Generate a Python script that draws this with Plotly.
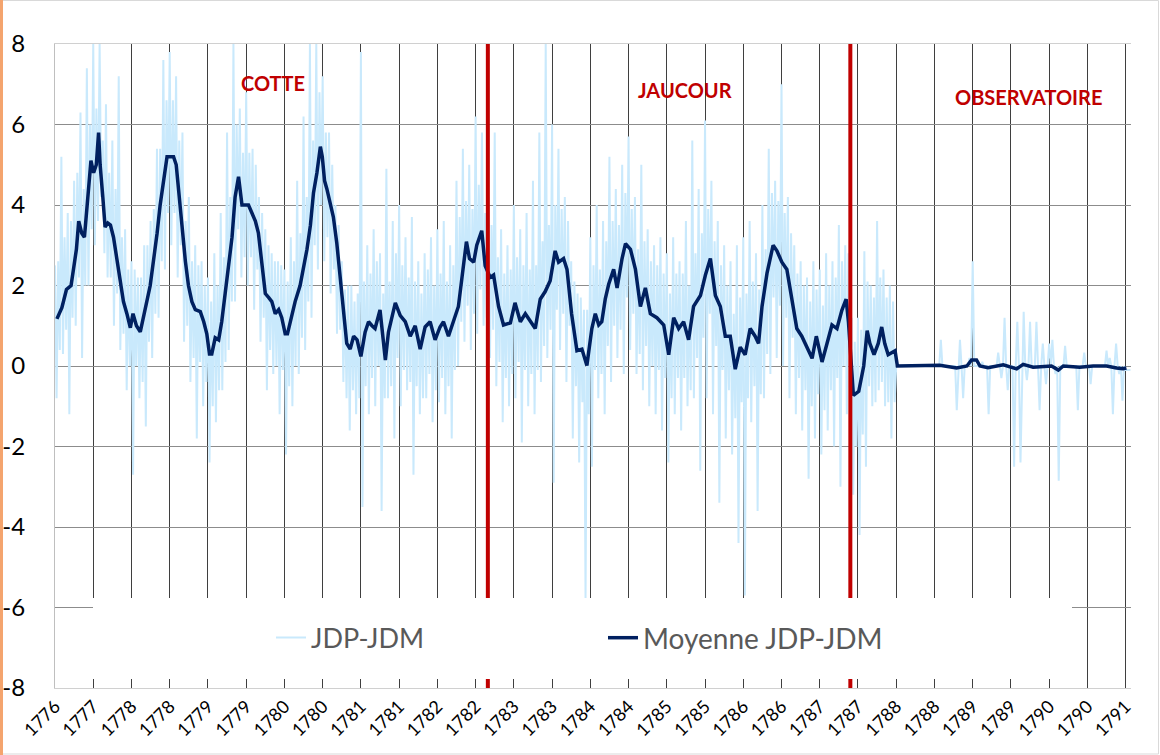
import numpy as np
import plotly.graph_objects as go

# ---------------- data ----------------
# x unit = one labelled period (tick); 29 tick labels
tick_labels = ["1776", "1777", "1778", "1778", "1779", "1779", "1780", "1780",
               "1781", "1781", "1782", "1782", "1783", "1783", "1784", "1784",
               "1785", "1785", "1786", "1786", "1787", "1787", "1788", "1788",
               "1789", "1789", "1790", "1790", "1791"]
y_ticks = [-8, -6, -4, -2, 0, 2, 4, 6, 8]
y_tick_labels = ["-8", "-6", "-4", "-2", "0", "2", "4", "6", "8"]

# JDP-JDM raw differences, 24 readings per period (one row per period)
jdp_jdm = [
    2.5, -0.8, 2.6, 0.4, 5.2, 0.3, 3.2, 0.9, 3.8, -1.2, 3.6, 1.2, 4.6, 1.0, 4.8, 2.2, 6.3, 0.2, 4.4, 2.0, 7.4, 2.0, 6.0, 3.4,
    8.0, 3.0, 6.4, 3.6, 8.0, 4.2, 5.6, 2.8, 6.5, 2.2, 4.8, 2.2, 5.6, 1.0, 4.4, 1.8, 7.2, 0.4, 3.2, 0.8, 3.4, -0.6, 2.4, 0.0,
    2.6, -2.7, 2.4, 0.0, 2.2, -0.8, 2.2, -0.4, 3.0, -1.5, 3.0, 0.6, 3.6, 0.2, 3.9, 1.3, 5.4, 1.2, 5.4, 2.6, 7.6, 2.4, 6.6, 3.8,
    7.8, 3.0, 6.6, 3.8, 7.2, 2.2, 5.6, 3.0, 5.8, 0.6, 3.6, 1.0, 4.2, -0.4, 2.6, 0.2, 3.0, -1.8, 2.5, 0.1, 2.6, -1.0, 2.0, -0.4,
    2.2, -2.4, 1.6, -1.0, 2.8, -1.4, 2.0, -0.6, 3.8, -0.6, 2.7, 0.1, 5.8, 0.4, 4.2, 1.6, 8.0, 1.6, 6.0, 3.4, 6.4, 2.2, 5.3, 2.7,
    6.8, 2.0, 5.3, 2.7, 5.4, 1.4, 5.0, 2.4, 4.2, 0.6, 3.8, 1.2, 3.4, -0.6, 3.0, 0.4, 2.8, -0.2, 2.6, 0.0, 2.6, -1.2, 2.5, -0.1,
    2.4, -2.2, 2.1, -0.5, 3.2, -1.0, 2.6, 0.0, 4.6, -0.2, 3.3, 0.7, 6.2, 0.4, 4.2, 1.6, 8.0, 1.2, 5.6, 3.0, 8.0, 2.4, 6.8, 4.0,
    7.2, 2.6, 5.8, 3.2, 5.8, 1.8, 5.0, 2.4, 4.0, 0.8, 3.5, 0.9, 2.6, -0.4, 1.9, -0.8, 2.0, -1.6, 2.0, -0.6, 1.6, -1.2, 1.8, -0.8,
    7.8, -3.5, 2.1, -0.5, 3.0, -1.2, 2.3, -0.3, 3.4, -1.0, 2.6, 0.0, 2.8, -3.6, 1.8, -0.8, 4.9, -0.8, 2.1, -0.5, 3.6, -1.8, 2.8, 0.2,
    4.0, -1.0, 2.5, -0.1, 3.2, -0.6, 2.2, -0.4, 3.7, -2.7, 2.1, -0.5, 2.6, -1.2, 1.8, -0.8, 2.8, -0.8, 2.4, -0.2, 3.2, -1.4, 2.0, -0.6,
    3.4, -0.9, 2.3, -0.3, 3.6, -1.2, 2.1, -0.5, 3.0, -1.8, 2.5, -0.1, 4.6, 0.0, 3.7, 1.1, 5.4, 0.6, 4.1, 1.5, 5.0, 0.4, 3.9, 1.3,
    6.2, 0.8, 4.5, 1.9, 5.8, 1.0, 3.8, 1.2, 4.2, 0.2, 3.5, 0.9, 5.8, -0.5, 2.7, 0.1, 3.4, -1.4, 2.3, -0.3, 3.0, -1.0, 2.4, -0.2,
    4.0, -0.8, 2.7, 0.1, 3.4, -1.9, 2.5, -0.1, 3.8, -1.0, 2.4, -0.2, 4.6, -1.2, 2.5, -0.1, 5.8, -0.4, 3.1, 0.5, 8.0, 0.2, 3.5, 0.9,
    6.0, -2.9, 4.0, 1.4, 5.4, 0.4, 3.9, 1.3, 4.2, -0.4, 3.6, 1.0, 2.6, -1.8, 2.1, -0.5, 1.8, -2.4, 1.7, -0.9, 1.4, -5.8, 1.4, -1.2,
    3.2, -2.5, 2.5, -0.1, 4.0, -0.8, 2.4, -0.2, 3.6, -1.2, 3.1, 0.5, 5.2, -0.4, 3.6, 1.0, 4.4, 0.2, 3.5, 0.9, 5.0, -0.2, 4.3, 1.7,
    5.7, 0.4, 3.9, 1.3, 4.2, -0.2, 2.9, 0.3, 5.0, -0.6, 3.1, 0.5, 3.4, -1.0, 2.6, 0.0, 3.0, -1.2, 2.5, -0.1, 3.2, -1.6, 2.3, -0.3,
    2.8, -2.4, 1.8, -0.8, 3.2, -1.2, 2.3, -0.3, 2.6, -1.6, 2.3, -0.3, 3.6, -1.0, 2.0, -0.6, 5.6, -0.8, 2.8, 0.2, 4.4, -2.6, 3.3, 0.7,
    6.1, -0.8, 3.9, 1.3, 4.6, -1.2, 3.1, 0.5, 3.6, -3.4, 2.5, -0.1, 3.0, -1.8, 2.0, -0.6, 2.6, -2.2, 1.3, -1.3, 3.0, -4.4, 1.7, -0.9,
    3.2, -5.7, 1.8, -0.8, 3.6, -1.4, 2.1, -0.5, 2.8, -3.6, 1.9, -0.7, 4.0, -0.8, 2.9, 0.3, 5.4, -0.2, 4.3, 1.7, 4.6, 0.2, 4.1, 1.5,
    7.0, 0.0, 3.8, 1.2, 4.2, -0.8, 3.3, 0.7, 3.0, -1.2, 2.3, -0.3, 2.6, -1.6, 2.0, -0.6, 2.2, -2.8, 1.6, -1.0, 2.6, -1.8, 1.9, -0.7,
    2.4, -2.2, 1.5, -1.1, 2.8, -1.6, 2.0, -0.6, 2.6, -2.0, 2.2, -0.3, 3.5, -3.0, 2.6, 0.0, 3.0, -1.2, 2.8, 0.2, 1.2, -3.2, 0.6, -2.0,
    1.2, -4.2, 0.9, -1.7, 2.85, -2.5, 2.1, -0.5, 2.0, -1.0, 1.7, -0.9, 3.6, -0.6, 2.2, -0.4, 2.4, -1.0, 1.7, -0.9, 2.0, -1.8, 1.6, -0.9,
    0, 0, 0, 0, 0, 0, 0, 0, 0, 0, 0, 0, 0, 0, 0, 0, 0, 0, 0, 0, 0, 0, 0, 0,
    0, 0, 0, 0, 0.65, 0, 0, 0, 0, 0, 0, 0, 0, 0, -1.1, 0, 0.65, 0, -0.8, 0, 0, 0, 0.2, 0,
    2.6, 0, 0, 0, 0, 0, 0.1, 0, 0, 0, -1.2, 0, 0, 0, 0, 0, 0.33, 0, -0.3, 0, 1.2, 0, -0.6, 0,
    0, 0, -2.5, 0, 1.1, 0, -2.4, 0, 1.35, 0, -0.35, 0, 1.1, 0, 0, 0, 1.1, 0, -1.1, 0, 0.56, 0, -0.45, 0,
    0.56, 0, 0.65, 0, -0.2, 0, -2.85, 0, 0, 0, 0.5, 0, 0, 0, 0, 0, 0, 0, -1.1, 0, 0, 0, 0.33, 0,
    0, 0, -0.45, 0, 0, 0, 0, 0, 0, 0, 0, 0, 0.38, 0, 0.2, 0, -1.2, 0, 0.56, 0, -0.2, 0, -0.86, 0,
    -0.1, -0.1, -0.1, -0.1,
]
readings_per_period = 24

# Moyenne JDP-JDM (moving average), read at these period positions
moy_period = [
    0.05, 0.18, 0.30, 0.42, 0.49, 0.56, 0.62, 0.70, 0.77, 0.84, 0.91, 0.94,
    1.01, 1.08, 1.14, 1.18, 1.25, 1.31, 1.38, 1.45, 1.53, 1.62, 1.71, 1.79,
    1.88, 1.97, 2.04, 2.13, 2.23, 2.32, 2.40, 2.49, 2.58, 2.67, 2.75, 2.84,
    2.93, 3.01, 3.10, 3.17, 3.23, 3.32, 3.41, 3.49, 3.58, 3.67, 3.80, 3.89,
    3.97, 4.04, 4.10, 4.19, 4.28, 4.36, 4.45, 4.54, 4.63, 4.71, 4.80, 4.89,
    4.98, 5.06, 5.15, 5.24, 5.32, 5.41, 5.50, 5.59, 5.67, 5.76, 5.85, 5.93,
    6.02, 6.08, 6.15, 6.28, 6.41, 6.50, 6.59, 6.68, 6.76, 6.85, 6.94, 6.99,
    7.05, 7.11, 7.20, 7.28, 7.37, 7.46, 7.55, 7.63, 7.72, 7.81, 7.90, 8.00,
    8.11, 8.20, 8.29, 8.37, 8.50, 8.64, 8.72, 8.90, 9.03, 9.16, 9.29, 9.42,
    9.55, 9.68, 9.81, 9.94, 10.07, 10.16, 10.29, 10.42, 10.55, 10.67, 10.76, 10.84,
    10.95, 11.03, 11.16, 11.25, 11.38, 11.47, 11.60, 11.73, 11.91, 12.03, 12.17, 12.30,
    12.43, 12.56, 12.69, 12.82, 12.95, 13.08, 13.17, 13.30, 13.39, 13.51, 13.65, 13.78,
    13.91, 14.04, 14.13, 14.22, 14.30, 14.39, 14.48, 14.61, 14.70, 14.83, 14.92, 15.05,
    15.18, 15.31, 15.44, 15.57, 15.74, 15.92, 16.05, 16.18, 16.31, 16.44, 16.57, 16.70,
    16.88, 17.01, 17.14, 17.27, 17.40, 17.53, 17.66, 17.79, 17.92, 18.05, 18.18, 18.31,
    18.40, 18.49, 18.62, 18.78, 18.88, 19.01, 19.14, 19.27, 19.40, 19.53, 19.66, 19.80,
    19.91, 20.06, 20.19, 20.32, 20.45, 20.58, 20.69, 20.75, 20.88, 21.02, 21.15, 21.24,
    21.31, 21.42, 21.53, 21.62, 21.70, 21.79, 21.88, 21.97, 22.03, 23.14, 23.58, 23.85,
    23.97, 24.10, 24.19, 24.40, 24.80, 25.15, 25.32, 25.58, 26.06, 26.24, 26.37, 26.80,
    27.15, 27.50, 27.76, 27.93, 28.02,
]
moy_values = [
    1.17, 1.45, 1.9, 2.0, 2.45, 2.9, 3.6, 3.3, 3.2, 3.9, 4.7, 5.1,
    4.8, 5.0, 5.8, 5.0, 4.2, 3.45, 3.55, 3.5, 3.2, 2.6, 2.1, 1.6,
    1.3, 0.95, 1.3, 1.0, 0.85, 1.2, 1.6, 2.0, 2.6, 3.3, 4.0, 4.6,
    5.2, 5.2, 5.2, 5.0, 4.3, 3.5, 2.6, 2.0, 1.6, 1.4, 1.35, 1.1,
    0.8, 0.3, 0.3, 0.7, 0.65, 1.1, 1.8, 2.6, 3.2, 4.2, 4.7, 4.0,
    4.0, 4.0, 3.8, 3.6, 3.3, 2.5, 1.8, 1.7, 1.6, 1.3, 1.4, 1.2,
    0.8, 0.8, 1.1, 1.6, 2.0, 2.4, 2.9, 3.5, 4.3, 4.8, 5.45, 5.2,
    4.6, 4.4, 4.05, 3.7, 3.05, 2.2, 1.5, 0.56, 0.42, 0.74, 0.65, 0.24,
    0.84, 1.1, 1.0, 0.93, 1.39, 0.15, 0.84, 1.57, 1.25, 1.1, 0.74, 1.0,
    0.42, 0.97, 1.1, 0.65, 0.97, 1.1, 0.74, 1.1, 1.48, 2.4, 3.09, 2.67,
    2.58, 3.0, 3.36, 2.49, 2.2, 2.26, 1.48, 1.02, 1.07, 1.57, 1.1, 1.3,
    1.1, 0.93, 1.66, 1.85, 2.12, 2.86, 2.58, 2.67, 2.4, 1.3, 0.38, 0.42,
    0.01, 0.93, 1.3, 1.02, 1.1, 1.66, 2.03, 2.4, 1.94, 2.67, 3.04, 2.9,
    2.4, 1.48, 1.94, 1.3, 1.2, 1.02, 0.28, 1.2, 0.93, 1.1, 0.65, 1.48,
    1.75, 2.26, 2.67, 1.75, 1.48, 0.74, 0.74, -0.08, 0.47, 0.28, 0.93, 0.74,
    0.56, 1.48, 2.3, 3.0, 2.86, 2.58, 2.4, 1.66, 0.93, 0.74, 0.47, 0.19,
    0.74, 0.1, 0.56, 1.02, 0.93, 1.39, 1.66, 1.1, -0.73, -0.63, 0.0, 0.88,
    0.56, 0.28, 0.56, 0.97, 0.56, 0.28, 0.33, 0.38, 0.0, 0.02, -0.05, 0.0,
    0.15, 0.15, 0.0, -0.04, 0.03, -0.07, 0.04, -0.03, 0.0, -0.1, 0.0, -0.03,
    0.0, 0.0, -0.05, -0.07, -0.05,
]

# observer changes (period positions) and labels
observer_changes = [11.32, 20.80]
observer_names = ["COTTE", "JAUCOUR", "OBSERVATOIRE"]
observer_label_x = [5.71, 16.48, 25.45]
observer_label_y = [7.03, 6.85, 6.68]

# ---------------- figure ----------------
FONT = "Lato, Carlito, Calibri, 'Open Sans', sans-serif"
LIGHT = "#c9e9fc"
DARK = "#002060"
RED = "#c00000"

x_light = np.arange(len(jdp_jdm)) / readings_per_period

fig = go.Figure()
fig.add_trace(go.Scatter(
    x=x_light, y=jdp_jdm, mode="lines", name="JDP-JDM",
    line=dict(color=LIGHT, width=2), legend="legend",
))
fig.add_trace(go.Scatter(
    x=moy_period, y=moy_values, mode="lines", name="Moyenne JDP-JDM",
    line=dict(color=DARK, width=3.5), legend="legend2",
))

W, H = 1160, 755
ML, MR, MT, MB = 55, 29, 44, 67
pw, ph = W - ML - MR, H - MT - MB


def px(xp):
    return (xp - ML) / pw


def py(yp):
    return (H - MB - yp) / ph


shapes = []
for xc in observer_changes:
    shapes.append(dict(type="line", xref="x", yref="y", x0=xc, x1=xc, y0=-8, y1=8,
                       line=dict(color=RED, width=4), layer="above"))
# legend box (white, opaque)
shapes.append(dict(type="rect", xref="paper", yref="paper",
                   x0=px(93), x1=px(1072), y0=py(679), y1=py(598),
                   fillcolor="white", line=dict(width=0), layer="above"))
# outer frame
shapes.append(dict(type="rect", xref="paper", yref="paper",
                   x0=px(1), x1=px(1158.5), y0=py(754), y1=py(0.5),
                   fillcolor="rgba(0,0,0,0)", line=dict(color="#d9d9d9", width=1),
                   layer="below"))
shapes.append(dict(type="rect", xref="paper", yref="paper",
                   x0=px(0), x1=px(3), y0=py(755), y1=py(0),
                   fillcolor="#f4a46e", line=dict(width=0), layer="below"))

annotations = []
for name, ax_, ay_ in zip(observer_names, observer_label_x, observer_label_y):
    annotations.append(dict(x=ax_, y=ay_, xref="x", yref="y", text="<b>%s</b>" % name,
                            showarrow=False, font=dict(family=FONT, size=20, color=RED),
                            xanchor="center", yanchor="middle"))

fig.update_layout(
    width=W, height=H,
    margin=dict(l=ML, r=MR, t=MT, b=MB, pad=0, autoexpand=False),
    paper_bgcolor="white", plot_bgcolor="white",
    font=dict(family=FONT, color="#000000"),
    showlegend=True,
    legend=dict(x=px(271), y=py(638), xanchor="left", yanchor="middle",
                bgcolor="rgba(0,0,0,0)", font=dict(family=FONT, size=27, color="#595959"),
                orientation="h"),
    legend2=dict(x=px(603), y=py(638), xanchor="left", yanchor="middle",
                 bgcolor="rgba(0,0,0,0)", font=dict(family=FONT, size=28, color="#595959"),
                 orientation="h"),
    shapes=shapes,
    annotations=annotations,
)
fig.update_xaxes(
    range=[0, 28.14], tickmode="array", tickvals=list(range(len(tick_labels))),
    ticktext=tick_labels, tickangle=-45, tickfont=dict(family=FONT, size=18, color="#000000"),
    showgrid=True, gridcolor="#3f3f3f", gridwidth=1, zeroline=False, automargin=False,
    showline=True, linecolor="#d0d0d0", linewidth=1, mirror=True, ticks="",
)
fig.update_yaxes(
    range=[-8, 8], tickmode="array", tickvals=y_ticks, ticktext=y_tick_labels,
    automargin=False, tickfont=dict(family=FONT, size=24, color="#000000"),
    showgrid=True, gridcolor="#8c8c8c", gridwidth=1, zeroline=False,
    showline=True, linecolor="#bfbfbf", linewidth=1, ticks="", ticklabelstandoff=24,
)

fig.write_html("out.html", config={"displayModeBar": False},
               post_script="document.body.style.margin='0px';document.body.style.padding='0px';"
                           "document.body.style.overflow='hidden';")
